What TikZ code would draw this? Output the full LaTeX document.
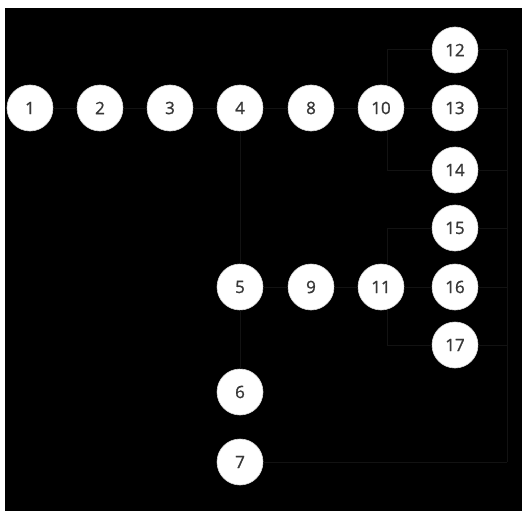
\documentclass[tikz,border=0pt]{standalone}
\usepackage{fontspec}
\setmainfont{Open Sans}
\newfontfamily\digitfont[FakeBold=1.2]{Open Sans}
\definecolor{wire}{HTML}{121212}
\definecolor{digit}{HTML}{383838}
\begin{document}
\begin{tikzpicture}[x=1pt,y=-1pt,
  num/.style={circle,fill=white,draw=white!85!black,line width=0.6pt,minimum size=46pt,inner sep=0pt,
    text=digit,font=\digitfont\fontsize{17}{17}\selectfont},
  wirestyle/.style={draw=wire,line width=1pt}]
\useasboundingbox (0,0) rectangle (522,511);
\fill[white] (0,0) rectangle (522,511);
\fill[black] (5,8) rectangle (522,511);
% nodes
\node[num] (n1) at (30,108) {1};
\node[num] (n2) at (100,108) {2};
\node[num] (n3) at (170,108) {3};
\node[num] (n4) at (240,108) {4};
\node[num] (n8) at (311,108) {8};
\node[num] (n10) at (381,108) {10};
\node[num] (n13) at (455,108) {13};
\node[num] (n12) at (455,50) {12};
\node[num] (n14) at (455,170) {14};
\node[num] (n15) at (455,228) {15};
\node[num] (n16) at (455,287) {16};
\node[num] (n17) at (455,345) {17};
\node[num] (n5) at (240,287) {5};
\node[num] (n9) at (311,287) {9};
\node[num] (n11) at (381,287) {11};
\node[num] (n6) at (240,392) {6};
\node[num] (n7) at (240,462) {7};
\coordinate (bustop) at (507,50);
\coordinate (busbot) at (507,462);
% connectors
\draw[wirestyle] (n1) -- (n2);
\draw[wirestyle] (n2) -- (n3);
\draw[wirestyle] (n3) -- (n4);
\draw[wirestyle] (n4) -- (n8);
\draw[wirestyle] (n8) -- (n10);
\draw[wirestyle] (n10) -- (n13);
\draw[wirestyle] (n4) -- (n5);
\draw[wirestyle] (n5) -- (n6);
\draw[wirestyle] (n5) -- (n9);
\draw[wirestyle] (n9) -- (n11);
\draw[wirestyle] (n11) -- (n16);
\draw[wirestyle] ([xshift=6pt]n10.north) |- (n12);
\draw[wirestyle] ([xshift=6pt]n10.south) |- (n14);
\draw[wirestyle] ([xshift=6pt]n11.north) |- (n15);
\draw[wirestyle] ([xshift=6pt]n11.south) |- (n17);
\draw[wirestyle] (bustop) -- (busbot);
\draw[wirestyle] (n12) -- (bustop);
\draw[wirestyle] (n13) -- (n13 -| bustop);
\draw[wirestyle] (n14) -- (n14 -| bustop);
\draw[wirestyle] (n15) -- (n15 -| bustop);
\draw[wirestyle] (n16) -- (n16 -| bustop);
\draw[wirestyle] (n17) -- (n17 -| bustop);
\draw[wirestyle] (n7) -- (busbot);
\end{tikzpicture}
\end{document}
